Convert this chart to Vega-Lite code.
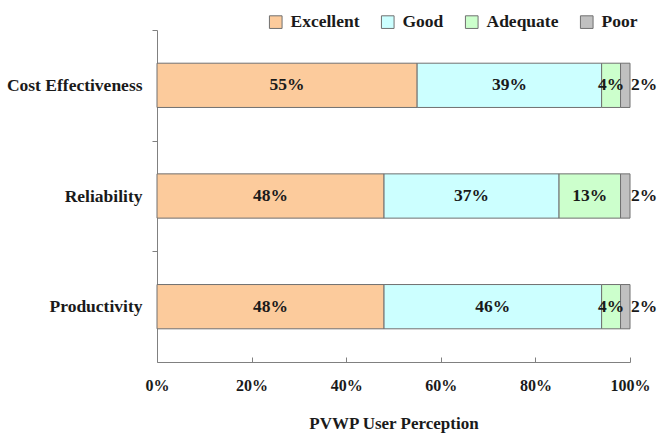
{
  "$schema": "https://vega.github.io/schema/vega-lite/v6.json",
  "autosize": "none",
  "width": 473,
  "height": 332,
  "padding": {"left": 157, "top": 30, "right": 30, "bottom": 73},
  "background": "white",
  "config": {
    "view": {"stroke": null},
    "font": "Times New Roman, Liberation Serif, serif",
    "axis": {"labelFont": "Times New Roman, Liberation Serif, serif", "titleFont": "Times New Roman, Liberation Serif, serif", "labelFontWeight": "bold", "titleFontWeight": "bold", "labelColor": "#1a1a1a", "titleColor": "#1a1a1a", "domainColor": "#808080", "tickColor": "#808080", "grid": false},
    "legend": {"labelFont": "Times New Roman, Liberation Serif, serif", "labelFontWeight": "bold", "labelFontSize": 17.5, "labelColor": "#1a1a1a"}
  },
  "data": {
    "values": [
      {"aspect": "Cost Effectiveness", "rating": "Excellent", "pct": 55, "ord": 1},
      {"aspect": "Cost Effectiveness", "rating": "Good", "pct": 39, "ord": 2},
      {"aspect": "Cost Effectiveness", "rating": "Adequate", "pct": 4, "ord": 3},
      {"aspect": "Cost Effectiveness", "rating": "Poor", "pct": 2, "ord": 4},
      {"aspect": "Reliability", "rating": "Excellent", "pct": 48, "ord": 1},
      {"aspect": "Reliability", "rating": "Good", "pct": 37, "ord": 2},
      {"aspect": "Reliability", "rating": "Adequate", "pct": 13, "ord": 3},
      {"aspect": "Reliability", "rating": "Poor", "pct": 2, "ord": 4},
      {"aspect": "Productivity", "rating": "Excellent", "pct": 48, "ord": 1},
      {"aspect": "Productivity", "rating": "Good", "pct": 46, "ord": 2},
      {"aspect": "Productivity", "rating": "Adequate", "pct": 4, "ord": 3},
      {"aspect": "Productivity", "rating": "Poor", "pct": 2, "ord": 4}
    ]
  },
  "transform": [
    {"stack": "pct", "groupby": ["aspect"], "sort": [{"field": "ord"}], "as": ["x0", "x1"]},
    {"calculate": "(datum.x0 + datum.x1) / 2", "as": "mid"},
    {"calculate": "datum.pct + '%'", "as": "lab"}
  ],
  "encoding": {
    "y": {
      "field": "aspect", "type": "nominal",
      "sort": ["Cost Effectiveness", "Reliability", "Productivity"],
      "scale": {"paddingInner": 0.6, "paddingOuter": 0.3},
      "axis": {"title": null, "labelFontSize": 17.5, "labelPadding": 10, "tickSize": 5, "tickOffset": -55.33, "labelOffset": 55.33, "domainColor": "#808080"}
    }
  },
  "layer": [
    {
      "mark": {"type": "bar", "stroke": "#707070", "strokeWidth": 1},
      "encoding": {
        "x": {
          "field": "x0", "type": "quantitative",
          "scale": {"domain": [0, 100], "nice": false},
          "axis": {"title": "PVWP User Perception", "titleFontSize": 17, "titlePadding": 22, "labelFontSize": 16, "labelPadding": 20, "values": [0, 20, 40, 60, 80, 100], "labelExpr": "datum.value + '%'", "tickSize": -5, "labelFlush": false}
        },
        "x2": {"field": "x1"},
        "color": {
          "field": "rating", "type": "nominal",
          "scale": {"domain": ["Excellent", "Good", "Adequate", "Poor"], "range": ["#FCCB9C", "#CCFFFF", "#CCFFCC", "#C0C0C0"]},
          "legend": {"title": null, "orient": "none", "direction": "horizontal", "legendX": 110, "legendY": -17, "symbolType": "square", "symbolSize": 160, "symbolStrokeColor": "#707070", "symbolStrokeWidth": 1, "labelOffset": 6, "columnPadding": 19}
        },
        "order": {"field": "ord"}
      }
    },
    {
      "transform": [{"filter": "datum.rating != 'Poor'"}],
      "mark": {"type": "text", "font": "Times New Roman, Liberation Serif, serif", "fontWeight": "bold", "fontSize": 17.5, "color": "#1a1a1a", "align": "center", "baseline": "middle"},
      "encoding": {
        "x": {"field": "mid", "type": "quantitative"},
        "text": {"field": "lab", "type": "nominal"},
        "detail": {"field": "rating"}
      }
    },
    {
      "transform": [{"filter": "datum.rating == 'Poor'"}],
      "mark": {"type": "text", "font": "Times New Roman, Liberation Serif, serif", "fontWeight": "bold", "fontSize": 17.5, "color": "#1a1a1a", "align": "left", "baseline": "middle", "dx": 1},
      "encoding": {
        "x": {"field": "x1", "type": "quantitative"},
        "text": {"field": "lab", "type": "nominal"}
      }
    }
  ]
}
